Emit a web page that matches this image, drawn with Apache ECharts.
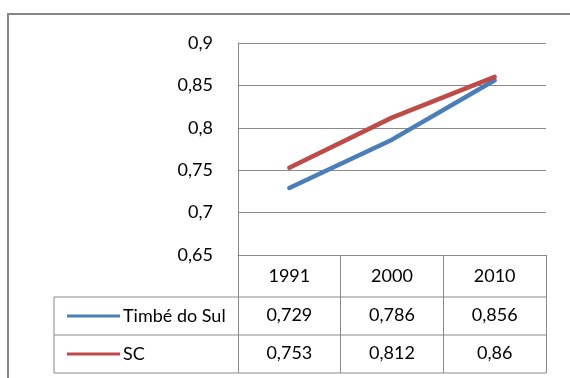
<!DOCTYPE html>
<html>
<head>
<meta charset="utf-8">
<script src="https://cdn.jsdelivr.net/npm/echarts@6/dist/echarts.min.js"></script>
<style>
  html, body { margin: 0; padding: 0; background: #fff; }
  #chart { width: 570px; height: 378px; }
</style>
</head>
<body>
<div id="chart"></div>
<script>
// IDHM values per census year
const years = ['1991', '2000', '2010'];
const timbeDoSul = [0.729, 0.786, 0.856];
const sc = [0.753, 0.812, 0.86];
const seriesNames = ['Timbé do Sul', 'SC'];
const seriesColors = ['#4a7ebb', '#be4b48'];
const yMin = 0.65, yMax = 0.9, yStep = 0.05;

const FONT = 'Lato, "Liberation Sans", sans-serif';
const FS = 18;
const GRID_COLOR = '#898989';

// layout of the plot and the data table beneath it
const plotL = 238, plotR = 546, plotT = 43, plotB = 255;
const headH = 42;            // height of the year row
const rowH = 38;             // height of each series row
const legendColL = 54;       // left edge of the series-name column
const W = 570, H = 378;

const comma = v => String(+(+v).toFixed(3)).replace('.', ',');

const chart = echarts.init(document.getElementById('chart'), null, { renderer: 'canvas' });

// each series row of the table is a category axis sharing the plot's bands
function tableAxis(values, offset) {
  return {
    type: 'category',
    data: values.map(comma),
    position: 'bottom',
    offset: offset,
    boundaryGap: true,
    axisLine: { show: false },
    axisTick: { show: false },
    axisLabel: { margin: 9, color: '#000', fontFamily: FONT, fontSize: FS }
  };
}

const hLine = (x1, x2, y) => ({
  type: 'line', silent: true, shape: { x1, y1: y, x2, y2: y },
  style: { stroke: GRID_COLOR, lineWidth: 1 }
});

chart.setOption({
  animation: false,
  backgroundColor: '#fff',
  grid: { left: plotL, right: W - plotR, top: plotT, bottom: H - plotB, containLabel: false },
  legend: {
    orient: 'vertical',
    left: 62,
    top: headH + plotB + 4,
    itemGap: 18,
    itemWidth: 53,
    itemHeight: 3,
    icon: 'rect',
    selectedMode: false,
    data: seriesNames,
    textStyle: { color: '#000', fontFamily: FONT, fontSize: FS, lineHeight: 20, padding: [0, 0, 0, -2] }
  },
  xAxis: [
    {
      type: 'category',
      data: years,
      boundaryGap: true,
      axisLine: { show: true, lineStyle: { color: GRID_COLOR, width: 1 } },
      axisTick: { show: true, inside: false, length: headH + rowH * 2, alignWithLabel: false,
                  lineStyle: { color: GRID_COLOR, width: 1 } },
      axisLabel: { margin: 12, color: '#000', fontFamily: FONT, fontSize: FS }
    },
    tableAxis(timbeDoSul, headH),
    tableAxis(sc, headH + rowH)
  ],
  yAxis: {
    type: 'value',
    min: yMin,
    max: yMax,
    interval: yStep,
    axisLine: { show: true, lineStyle: { color: GRID_COLOR, width: 1 } },
    axisTick: { show: false },
    splitLine: { show: true, lineStyle: { color: GRID_COLOR, width: 1 } },
    axisLabel: {
      margin: 25,
      color: '#000',
      fontFamily: FONT,
      fontSize: FS,
      formatter: v => String(+v.toFixed(2)).replace('.', ',')
    }
  },
  series: [
    {
      name: seriesNames[0], type: 'line', data: timbeDoSul, xAxisIndex: 0,
      symbol: 'none', color: seriesColors[0],
      lineStyle: { width: 4.5, color: seriesColors[0], cap: 'round', join: 'round' }
    },
    {
      name: seriesNames[1], type: 'line', data: sc, xAxisIndex: 0,
      symbol: 'none', color: seriesColors[1],
      lineStyle: { width: 4.5, color: seriesColors[1], cap: 'round', join: 'round' }
    }
  ],
  graphic: [
    // chart frame
    { type: 'rect', silent: true, shape: { x: 8, y: 14, width: 620, height: 420 },
      style: { fill: null, stroke: '#868686', lineWidth: 2 } },
    // table row borders and the series-name column edge
    hLine(legendColL, plotR, plotB + headH),
    hLine(legendColL, plotR, plotB + headH + rowH),
    hLine(legendColL, plotR, plotB + headH + rowH * 2),
    { type: 'line', silent: true,
      shape: { x1: legendColL, y1: plotB + headH, x2: legendColL, y2: plotB + headH + rowH * 2 },
      style: { stroke: GRID_COLOR, lineWidth: 1 } }
  ]
});
</script>
</body>
</html>
